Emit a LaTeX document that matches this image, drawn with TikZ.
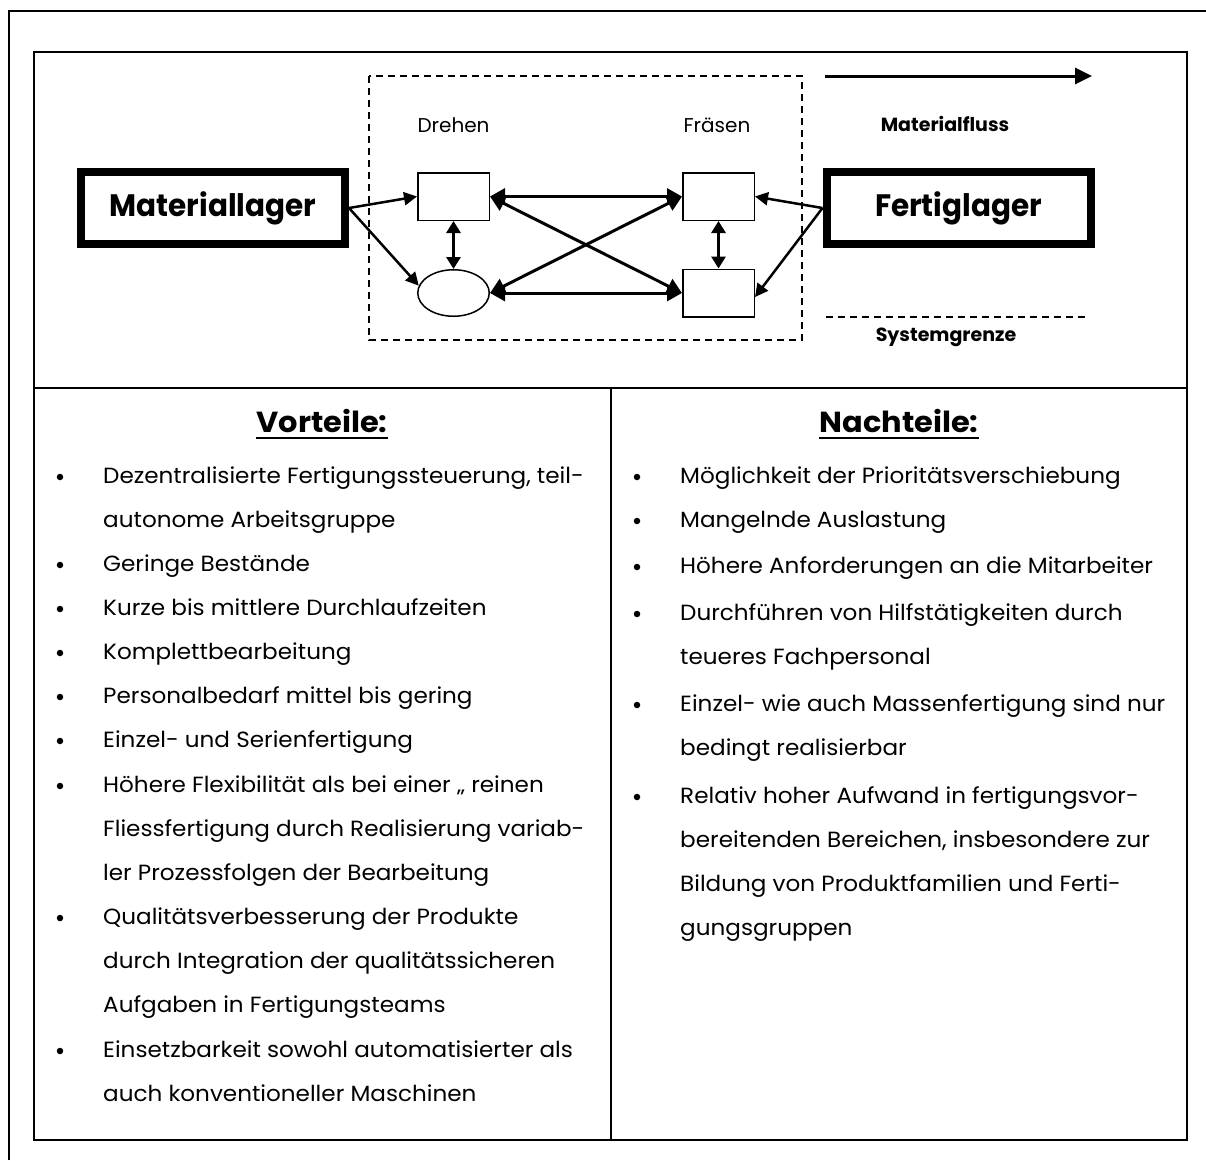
\documentclass[tikz,border=0pt]{standalone}
\usepackage{fontspec}
\setmainfont{Poppins}
\newfontfamily\widefont{Poppins}[FakeStretch=1.05]
\newfontfamily\narrowfont{Poppins}[FakeStretch=0.95]
\usetikzlibrary{arrows.meta,shapes.geometric}

\begin{document}
\begin{tikzpicture}[x=1pt,y=-1pt,
  rule/.style={line width=2pt,draw=black},
  store/.style={draw,line width=8pt,minimum width=264pt,minimum height=72pt,inner sep=0pt,
    font=\narrowfont\bfseries\fontsize{31}{31}\selectfont},
  station/.style={draw,line width=1.5pt,minimum width=71.5pt,minimum height=47.5pt,inner sep=0pt},
  buffer/.style={draw,ellipse,line width=1.5pt,minimum width=71.5pt,minimum height=46.5pt,inner sep=0pt},
  link/.style={line width=3pt,{Triangle[length=15pt,width=16pt]}-{Triangle[length=15pt,width=16pt]}},
  vlink/.style={line width=3pt,{Triangle[length=12pt,width=14pt]}-{Triangle[length=12pt,width=14pt]}},
  feed/.style={line width=2.5pt,-{Triangle[length=13pt,width=13pt]}},
  caption/.style={inner sep=0pt,anchor=base,font=\fontsize{20}{20}\selectfont},
  legend/.style={inner sep=0pt,anchor=base,font=\bfseries\fontsize{19}{20}\selectfont},
  heading/.style={inner sep=0pt,anchor=base,font=\widefont\bfseries\fontsize{29}{30}\selectfont},
  body/.style={inner sep=0pt,anchor=base west,font=\widefont\fontsize{22}{26}\selectfont},
  dot/.style={circle,fill=black,inner sep=0pt,minimum size=6.5pt}
]
\useasboundingbox (0,0) rectangle (1206,1160);

% page frame (top and left only)
\draw[rule] (8.5,1160) -- (8.5,10.5) -- (1206,10.5);

% table
\draw[rule] (34,52) rectangle (1187,1140);
\draw[rule] (34,388) -- (1187,388);
\draw[rule] (611,388) -- (611,1140);

% system boundary
\draw[line width=1.5pt,dash pattern=on 7pt off 5pt] (369,76) rectangle (802,340);

% stores
\node[store] (mat) at (213,208) {Materiallager};
\node[store] (fert) at (958.5,208) {Fertiglager};

% workstations
\node[station] (dreh) at (453.5,196.5) {};
\node[buffer]  (puf)  at (453.5,293) {};
\node[station] (fr1)  at (718.5,196.5) {};
\node[station] (fr2)  at (718.5,293) {};

\node[caption] (tdreh) at (453.5,132) {Drehen};
\node[caption] (tfr)   at (717,132) {Fräsen};

% material flow connections
\draw[feed] (mat.east) -- (dreh.west);
\draw[feed] (mat.east) -- (puf.168);
\draw[feed] (fert.west) -- (fr1.east);
\draw[feed] (fert.west) -- ([yshift=-4pt]fr2.east);

\draw[link] (dreh.east) -- (fr1.west);
\draw[link] (puf.east) -- (fr2.west);
\draw[link] (dreh.east) -- (fr2.west);
\draw[link] (puf.east) -- (fr1.west);
\draw[vlink] (dreh.south) -- (puf.north);
\draw[vlink] (fr1.south) -- (fr2.north);

% legend
\coordinate (mfa) at (825,76);
\coordinate (mfb) at (1092,76);
\draw[line width=3pt,-{Triangle[length=17pt,width=16pt]}] (mfa) -- (mfb);
\node[legend] (tmf) at (945,131) {Materialfluss};
\coordinate (sga) at (826,317);
\coordinate (sgb) at (1088,317);
\draw[line width=1.8pt,dash pattern=on 7pt off 5pt] (sga) -- (sgb);
\node[legend] (tsg) at (946,341) {Systemgrenze};

% headings
\node[heading] (hv) at (322,432) {Vorteile:};
\draw[line width=2pt] ([yshift=-6pt]hv.base west) -- ([yshift=-6pt]hv.base east);
\node[heading] (hn) at (899,432) {Nachteile:};
\draw[line width=2pt] ([yshift=-6pt]hn.base west) -- ([yshift=-6pt]hn.base east);

% advantages
\foreach \i/\y/\t in {
  1/483/{Dezentralisierte Fertigungssteuerung, teil-},
  2/527/{autonome Arbeitsgruppe},
  3/571/{Geringe Bestände},
  4/615/{Kurze bis mittlere Durchlaufzeiten},
  5/659/{Komplettbearbeitung},
  6/703/{Personalbedarf mittel bis gering},
  7/747/{Einzel- und Serienfertigung},
  8/792/{Höhere Flexibilität als bei einer „ reinen},
  9/836/{Fliessfertigung durch Realisierung variab-},
  10/880/{ler Prozessfolgen der Bearbeitung},
  11/924/{Qualitätsverbesserung der Produkte},
  12/968/{durch Integration der qualitätssicheren},
  13/1012/{Aufgaben in Fertigungsteams},
  14/1057/{Einsetzbarkeit sowohl automatisierter als},
  15/1101/{auch konventioneller Maschinen}}
  \node[body] (v\i) at (103,\y) {\t};
\foreach \i/\y in {1/483,3/571,4/615,5/659,6/703,7/747,8/792,11/924,14/1057}
  \node[dot] (vb\i) at (60,\y-6) {};

% disadvantages
\foreach \i/\y/\t in {
  1/483/{Möglichkeit der Prioritätsverschiebung},
  2/527/{Mangelnde Auslastung},
  3/573/{Höhere Anforderungen an die Mitarbeiter},
  4/620/{Durchführen von Hilfstätigkeiten durch},
  5/664/{teueres Fachpersonal},
  6/711/{Einzel- wie auch Massenfertigung sind nur},
  7/755/{bedingt realisierbar},
  8/803/{Relativ hoher Aufwand in fertigungsvor-},
  9/847/{bereitenden Bereichen, insbesondere zur},
  10/891/{Bildung von Produktfamilien und Ferti-},
  11/935/{gungsgruppen}}
  \node[body] (n\i) at (680,\y) {\t};
\foreach \i/\y in {1/483,2/527,3/573,4/620,6/711,8/803}
  \node[dot] (nb\i) at (637,\y-6) {};
\end{tikzpicture}
\end{document}
